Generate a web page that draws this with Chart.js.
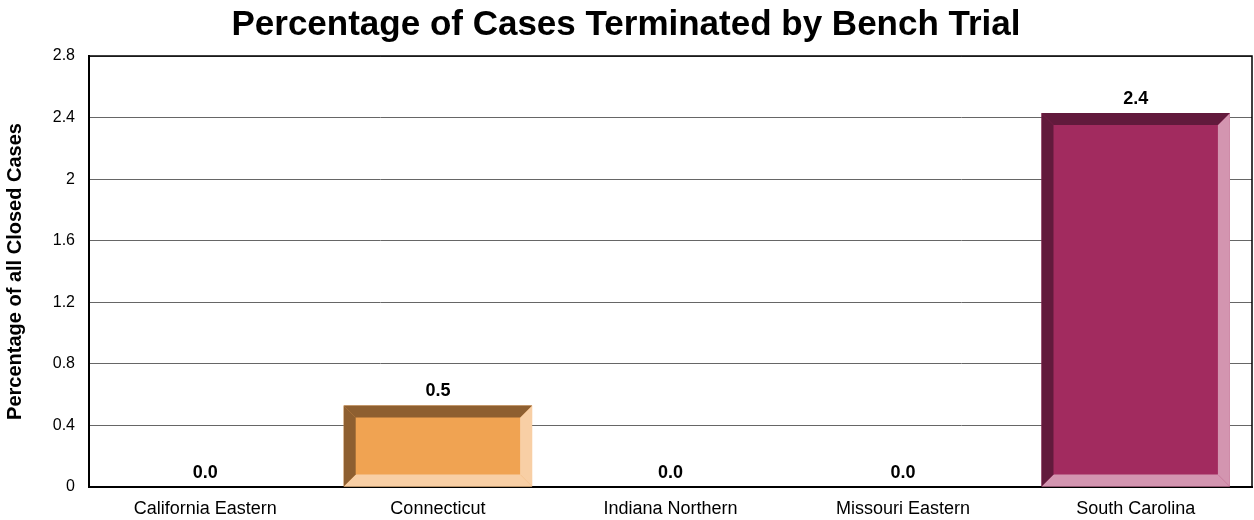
<!DOCTYPE html>
<html>
<head>
<meta charset="utf-8">
<title>Percentage of Cases Terminated by Bench Trial</title>
<script src="https://cdn.jsdelivr.net/npm/chart.js"></script>
<style>
  html, body { margin: 0; padding: 0; background: #ffffff; }
  .chart-container { position: relative; width: 1254px; height: 520px; }
</style>
</head>
<body>
<div class="chart-container">
  <canvas id="chart"></canvas>
</div>
<script>
// Data
const districts = ['California Eastern', 'Connecticut', 'Indiana Northern', 'Missouri Eastern', 'South Carolina'];
const benchTrialPct = [0, 0.53, 0, 0, 2.43];
const yTickLabels = ['0', '0.4', '0.8', '1.2', '1.6', '2', '2.4', '2.8'];

// bar colours: face, dark bevel (top/left), light bevel (bottom/right)
const faceColors = ['#7f7fbf', '#f0a352', '#7f7fbf', '#7f7fbf', '#a22b5f'];
const darkColors = ['#40405f', '#8e5f30', '#40405f', '#40405f', '#621a3c'];
const lightColors = ['#bfbfdf', '#f8cfa5', '#bfbfdf', '#bfbfdf', '#d395b0'];

const BEVEL = 12;

// draws the bevelled edges on top of each bar, from the bar elements' own geometry
const bevelPlugin = {
  id: 'bevel',
  afterDatasetsDraw(chart) {
    const ctx = chart.ctx;
    const meta = chart.getDatasetMeta(0);
    meta.data.forEach((bar, i) => {
      const h = bar.base - bar.y;
      if (h < 1) return;
      const l = bar.x - bar.width / 2, r = bar.x + bar.width / 2;
      const t = bar.y, b = bar.base;
      const poly = (pts, color) => {
        ctx.beginPath();
        ctx.moveTo(pts[0][0], pts[0][1]);
        for (let k = 1; k < pts.length; k++) ctx.lineTo(pts[k][0], pts[k][1]);
        ctx.closePath();
        ctx.fillStyle = color;
        ctx.fill();
      };
      ctx.save();
      poly([[r, t], [r, b], [r - BEVEL, b - BEVEL], [r - BEVEL, t + BEVEL]], lightColors[i]);
      poly([[l, b], [r, b], [r - BEVEL, b - BEVEL], [l + BEVEL, b - BEVEL]], lightColors[i]);
      poly([[l, t], [r, t], [r - BEVEL, t + BEVEL], [l + BEVEL, t + BEVEL]], darkColors[i]);
      poly([[l, t], [l + BEVEL, t + BEVEL], [l + BEVEL, b - BEVEL], [l, b]], darkColors[i]);
      ctx.restore();
    });
  }
};

// value labels above each bar
const valueLabels = {
  id: 'valueLabels',
  afterDatasetsDraw(chart) {
    const ctx = chart.ctx;
    const meta = chart.getDatasetMeta(0);
    ctx.save();
    ctx.font = 'bold 18px "Liberation Sans", Arial, sans-serif';
    ctx.fillStyle = '#000';
    ctx.textAlign = 'center';
    ctx.textBaseline = 'alphabetic';
    meta.data.forEach((bar, i) => {
      ctx.fillText(benchTrialPct[i].toFixed(1), bar.x, bar.y - 9);
    });
    ctx.restore();
  }
};

// plot frame: top and right border
const frame = {
  id: 'frame',
  afterDraw(chart) {
    const { ctx, chartArea: a } = chart;
    ctx.save();
    ctx.strokeStyle = '#000';
    ctx.lineWidth = 1.5;
    ctx.beginPath();
    ctx.moveTo(a.left, a.top);
    ctx.lineTo(a.right, a.top);
    ctx.lineTo(a.right, a.bottom);
    ctx.stroke();
    ctx.restore();
  }
};

Chart.defaults.font.family = '"Liberation Sans", Arial, sans-serif';
Chart.defaults.color = '#000';

new Chart(document.getElementById('chart').getContext('2d'), {
  type: 'bar',
  data: {
    labels: districts,
    datasets: [{
      data: benchTrialPct,
      backgroundColor: faceColors,
      borderWidth: 0,
      categoryPercentage: 1.0,
      barPercentage: 0.81
    }]
  },
  options: {
    responsive: true,
    maintainAspectRatio: false,
    animation: false,
    layout: { padding: { top: 0, right: 2, left: 0, bottom: 0 } },
    plugins: {
      legend: { display: false },
      tooltip: { enabled: false },
      title: {
        display: true,
        text: 'Percentage of Cases Terminated by Bench Trial',
        font: { size: 35, weight: 'bold' },
        color: '#000',
        padding: { top: 4, bottom: 10 }
      }
    },
    scales: {
      x: {
        grid: { display: false, drawTicks: false },
        border: { display: true, color: '#000', width: 2 },
        ticks: { font: { size: 18 }, padding: 11, maxRotation: 0, autoSkip: false },
        afterFit(scale) { scale.height = 33; }
      },
      y: {
        min: 0,
        max: 2.8,
        grid: { color: '#666', lineWidth: 1, drawTicks: false },
        border: { display: true, color: '#000', width: 2 },
        ticks: {
          stepSize: 0.4,
          font: { size: 16 },
          padding: 14,
          callback: (v, i) => yTickLabels[i]
        },
        title: {
          display: true,
          text: 'Percentage of all Closed Cases',
          font: { size: 20, weight: 'bold' },
          padding: { top: 3, bottom: 0 }
        },
        afterFit(scale) { scale.width = 89; }
      }
    }
  },
  plugins: [bevelPlugin, valueLabels, frame]
});
</script>
</body>
</html>
